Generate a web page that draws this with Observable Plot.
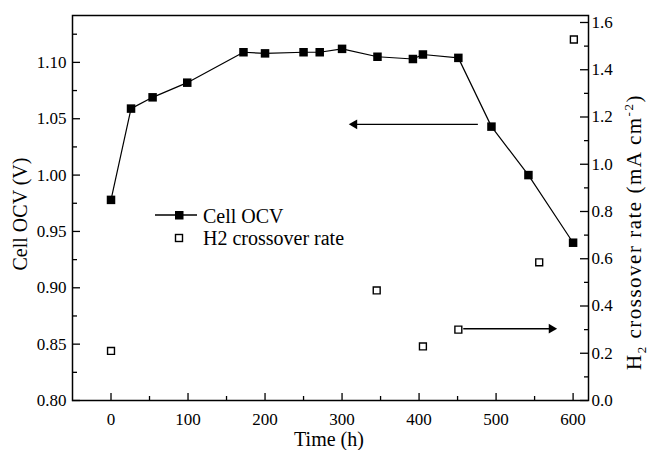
<!DOCTYPE html>
<html><head><meta charset="utf-8">
<script src="https://cdn.jsdelivr.net/npm/d3@7"></script>
<script src="https://cdn.jsdelivr.net/npm/@observablehq/plot@0.6"></script>
<style>body{margin:0;background:#fff} #chart{position:relative;width:651px;height:450px}</style>
</head><body><div id="chart"></div>
<script>
// ---- data ----
const ocvTime  = [0, 26, 54, 99, 172, 200, 250, 271, 300, 346, 392, 405, 451, 494, 542, 600];
const ocvValue = [0.978, 1.059, 1.069, 1.082, 1.109, 1.108, 1.109, 1.109, 1.112, 1.105, 1.103, 1.107, 1.104, 1.043, 1.000, 0.940];
const h2Time = [0, 345, 405, 451, 556, 601];
const h2Rate = [0.21, 0.466, 0.229, 0.30, 0.585, 1.528];
const xTicks = [0, 100, 200, 300, 400, 500, 600];
const xMinor = [50, 150, 250, 350, 450, 550];
const leftTicks = [0.80, 0.85, 0.90, 0.95, 1.00, 1.05, 1.10];
const leftMinor = [0.825, 0.875, 0.925, 0.975, 1.025, 1.075, 1.125];
const rightTicks = [0, 0.2, 0.4, 0.6, 0.8, 1.0, 1.2, 1.4, 1.6];
const rightMinor = [0.1, 0.3, 0.5, 0.7, 0.9, 1.1, 1.3, 1.5];
const seriesNames = ["Cell OCV", "H2 crossover rate"];
const xTitle = "Time (h)";
const leftTitle = "Cell OCV (V)";
// annotation arrows: x from, x to, value on own axis
const arrowLeftAxis  = {from: 477, to: 316, value: 1.045};
const arrowRightAxis = {from: 458, to: 572, value: 0.304};

const leftDomain = [0.80, 1.1416];
const rightDomain = [0, 1.6296];
const toLeft = v => leftDomain[0] + (v - rightDomain[0]) * (leftDomain[1] - leftDomain[0]) / (rightDomain[1] - rightDomain[0]);
const fromLeft = y => rightDomain[0] + (y - leftDomain[0]) * (rightDomain[1] - rightDomain[0]) / (leftDomain[1] - leftDomain[0]);

const ocv = ocvTime.map((t, i) => ({t, v: ocvValue[i]}));
const h2 = h2Time.map((t, i) => ({t, v: toLeft(h2Rate[i])}));
const arrows = [
  {x1: arrowLeftAxis.from, x2: arrowLeftAxis.to, y: arrowLeftAxis.value},
  {x1: arrowRightAxis.from, x2: arrowRightAxis.to, y: toLeft(arrowRightAxis.value)}
];

const W = 651, H = 450, mL = 72, mR = 63, mT = 15, mB = 50;
const fw = W - mL - mR, fh = H - mT - mB;
const FONT = "'Liberation Serif', 'Times New Roman', serif";

const plot = Plot.plot({
  width: W, height: H,
  marginLeft: mL, marginRight: mR, marginTop: mT, marginBottom: mB,
  style: {fontFamily: FONT, fontSize: "17px", color: "#000", background: "#fff", overflow: "visible"},
  x: {domain: [-50, 620]},
  y: {domain: leftDomain},
  marks: [
    Plot.axisX({ticks: xTicks, tickSize: 0, tickPadding: 12, label: null, fontSize: 17, fontFamily: FONT}),
    Plot.axisY({ticks: leftTicks, tickSize: 0, tickPadding: 6, tickFormat: d => d.toFixed(2), label: null, fontSize: 17, fontFamily: FONT}),
    Plot.axisY({anchor: "right", ticks: rightTicks.map(toLeft), tickSize: 0, tickPadding: 3, tickFormat: d => fromLeft(d).toFixed(1), label: null, fontSize: 17, fontFamily: FONT}),
    Plot.tickX(xTicks, {x: d => d, insetTop: fh - 7, stroke: "#000", strokeWidth: 1.3}),
    Plot.tickX(xMinor, {x: d => d, insetTop: fh - 4, stroke: "#000", strokeWidth: 1.3}),
    Plot.tickY(leftTicks, {y: d => d, insetRight: fw - 8, stroke: "#000", strokeWidth: 1.3}),
    Plot.tickY(leftMinor, {y: d => d, insetRight: fw - 5, stroke: "#000", strokeWidth: 1.3}),
    Plot.tickY(rightTicks.map(toLeft), {y: d => d, insetLeft: fw - 8, stroke: "#000", strokeWidth: 1.3}),
    Plot.tickY(rightMinor.map(toLeft), {y: d => d, insetLeft: fw - 4, stroke: "#000", strokeWidth: 1.3}),
    Plot.frame({stroke: "#000", strokeWidth: 1.5}),
    Plot.line(ocv, {x: "t", y: "v", stroke: "#000", strokeWidth: 1.2}),
    Plot.dot(ocv, {x: "t", y: "v", symbol: "square", fill: "#000", stroke: "none", r: 4.8}),
    Plot.dot(h2, {x: "t", y: "v", symbol: "square", fill: "#fff", stroke: "#000", strokeWidth: 1.4, r: 3.9}),
    Plot.ruleY(arrows, {y: "y", x1: "x1", x2: "x2", stroke: "#000", strokeWidth: 1.4}),
    Plot.dot(arrows, {x: "x2", y: "y", symbol: "triangle", rotate: d => d.x2 < d.x1 ? -90 : 90, fill: "#000", stroke: "none", r: 3.6})
  ]
});

const svg = d3.select(plot);
svg.style("font-family", FONT);
svg.selectAll("text").style("font-family", FONT);
// axis titles
svg.append("text").attr("x", 329).attr("y", 446).attr("text-anchor", "middle")
  .style("font-family", FONT).attr("font-size", 20).attr("fill", "#000").text(xTitle);
svg.append("text").attr("transform", "translate(27,214) rotate(-90)").attr("text-anchor", "middle")
  .style("font-family", FONT).attr("font-size", 20).attr("fill", "#000").text(leftTitle);
const rt = svg.append("text").attr("transform", "translate(641,232) rotate(-90)").attr("text-anchor", "middle")
  .style("font-family", FONT).style("letter-spacing", "1.5px").attr("font-size", 21).attr("fill", "#000");
rt.append("tspan").text("H");
rt.append("tspan").attr("font-size", 13).attr("dy", 5).text("2");
rt.append("tspan").attr("dy", -5).text(" crossover rate (mA cm");
rt.append("tspan").attr("font-size", 13).attr("dy", -8).text("-2");
rt.append("tspan").attr("dy", 8).text(")");

// legend
const lg = svg.append("g").style("font-family", FONT).attr("font-size", 20).attr("fill", "#000").attr("text-anchor", "start");
lg.append("line").attr("x1", 155).attr("x2", 197).attr("y1", 215).attr("y2", 215).attr("stroke", "#000").attr("stroke-width", 1.3);
lg.append("rect").attr("x", 175).attr("y", 211).attr("width", 8.5).attr("height", 8.5).attr("fill", "#000");
lg.append("text").attr("x", 203).attr("y", 222.5).attr("text-anchor", "start").text(seriesNames[0]);
lg.append("rect").attr("x", 175.5).attr("y", 234.5).attr("width", 7).attr("height", 7).attr("fill", "#fff").attr("stroke", "#000").attr("stroke-width", 1.4);
lg.append("text").attr("x", 203).attr("y", 245).attr("text-anchor", "start").text(seriesNames[1]);

document.getElementById("chart").appendChild(plot);
</script>
</body></html>
